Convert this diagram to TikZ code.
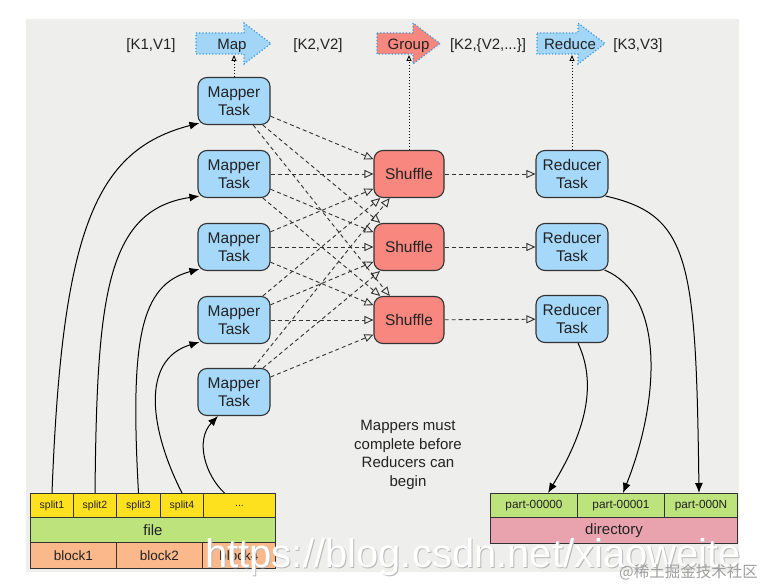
\documentclass[tikz,border=0pt]{standalone}
\usepackage{fontspec}
\setmainfont{Liberation Sans}
\newfontfamily\cjkfont{Noto Sans CJK SC}
\usetikzlibrary{arrows.meta,calc}
\definecolor{bgc}{HTML}{EEEEEC}
\definecolor{taskblue}{HTML}{A6D8FA}
\definecolor{shufred}{HTML}{F7877F}
\definecolor{arrblue}{HTML}{A3D5F7}
\definecolor{dotblue}{HTML}{3A9BE0}
\definecolor{splity}{HTML}{FDE11F}
\definecolor{fileg}{HTML}{BDE37D}
\definecolor{blockor}{HTML}{FBB88A}
\definecolor{dirpink}{HTML}{E8A3AE}
\definecolor{edge}{HTML}{333333}
\definecolor{txt}{HTML}{222222}
\begin{document}
\begin{tikzpicture}[x=1pt,y=-1pt,
  task/.style={draw=edge, line width=1.1pt, rounded corners=9pt, minimum width=72pt,
    minimum height=47pt, inner sep=0pt, align=center,
    font=\fontsize{15.5}{17.5}\selectfont, text=txt},
  mapper/.style={task, fill=taskblue},
  shuffle/.style={task, fill=shufred, minimum width=70pt},
  cell/.style={draw=edge, line width=1pt, anchor=north west, inner sep=0pt, text=txt},
  lbl/.style={font=\fontsize{15}{17}\selectfont, text=txt, inner sep=0pt, anchor=base},
  flowshape/.style={draw=dotblue, line width=1.2pt, dotted},
  dasharrow/.style={draw=edge, line width=0.9pt, dash pattern=on 4pt off 3pt,
    -{Triangle[open, length=9pt, width=8pt]}},
  uparrow/.style={draw=black, line width=1pt, dotted,
    -{Triangle[open, length=6pt, width=5pt, line width=0.9pt]}},
  feed/.style={draw=black, line width=1pt, -{Latex[length=10pt, width=8pt]}},
]
\useasboundingbox (0,0) rectangle (764,586);
\fill[bgc] (26,19) rectangle (739,572);

% top flow arrows
\filldraw[flowshape, fill=arrblue] (196,33) -- (244,33) -- (244,23) -- (271,43.5) -- (244,64) -- (244,54) -- (196,54) -- cycle;
\filldraw[flowshape, fill=shufred] (377,33) -- (413,33) -- (413,23) -- (440,43.5) -- (413,64) -- (413,54) -- (377,54) -- cycle;
\filldraw[flowshape, fill=arrblue] (537,33) -- (578,33) -- (578,23) -- (605,43.5) -- (578,64) -- (578,54) -- (537,54) -- cycle;
\node[lbl] (map) at (232,49.5) {Map};
\node[lbl] (group) at (408.5,49.5) {Group};
\node[lbl] (reduce) at (570,49.5) {Reduce};
\node[lbl] (kv1) at (151,49.5) {[K1,V1]};
\node[lbl] (kv2) at (318,49.5) {[K2,V2]};
\node[lbl] (kv2b) at (488,49.5) {[K2,\{V2,...\}]};
\node[lbl] (kv3) at (638,49.5) {[K3,V3]};
\coordinate (mapb) at (234,55);
\coordinate (groupb) at (409,55);
\coordinate (reduceb) at (572,55);

% tasks
\node[mapper] (m1) at (234,101) {Mapper\\Task};
\node[mapper] (m2) at (234,174) {Mapper\\Task};
\node[mapper] (m3) at (234,247) {Mapper\\Task};
\node[mapper] (m4) at (234,320) {Mapper\\Task};
\node[mapper] (m5) at (234,392) {Mapper\\Task};
\node[shuffle] (s1) at (409,174) {Shuffle};
\node[shuffle] (s2) at (409,247) {Shuffle};
\node[shuffle] (s3) at (409,320) {Shuffle};
\node[mapper] (r1) at (572,174) {Reducer\\Task};
\node[mapper] (r2) at (572,247) {Reducer\\Task};
\node[mapper] (r3) at (572,319) {Reducer\\Task};

% up arrows
\draw[uparrow] (m1.north) -- (mapb);
\draw[uparrow] (s1.north) -- (groupb);
\draw[uparrow] (r1.north) -- (reduceb);

% mapper -> shuffle
\foreach \i in {1,...,5}{
  \foreach \j in {1,2,3}{
    \draw[dasharrow] (m\i) -- (s\j);
  }
}
\foreach \j in {1,2,3}{
  \draw[dasharrow] (s\j) -- (r\j);
}

% input file table
\node[cell, fill=splity, minimum width=43pt, minimum height=24pt, font=\fontsize{10.5}{12}\selectfont] (sp1) at (30,493) {split1};
\node[cell, fill=splity, minimum width=43pt, minimum height=24pt, font=\fontsize{10.5}{12}\selectfont] (sp2) at (73,493) {split2};
\node[cell, fill=splity, minimum width=44pt, minimum height=24pt, font=\fontsize{10.5}{12}\selectfont] (sp3) at (116,493) {split3};
\node[cell, fill=splity, minimum width=43pt, minimum height=24pt, font=\fontsize{10.5}{12}\selectfont] (sp4) at (160,493) {split4};
\node[cell, fill=splity, minimum width=72pt, minimum height=24pt, font=\fontsize{10.5}{12}\selectfont] (sp5) at (203,493) {...};
\node[cell, fill=fileg, minimum width=245pt, minimum height=25pt, font=\fontsize{15}{17}\selectfont] (file) at (30,517) {file};
\node[cell, fill=blockor, minimum width=86pt, minimum height=26pt, font=\fontsize{13.5}{16}\selectfont] (b1) at (30,542) {block1};
\node[cell, fill=blockor, minimum width=86pt, minimum height=26pt, font=\fontsize{13.5}{16}\selectfont] (b2) at (116,542) {block2};
\node[cell, fill=blockor, minimum width=73pt, minimum height=26pt, font=\fontsize{13.5}{16}\selectfont] (b3) at (202,542) {block4};

% output directory table
\node[cell, fill=fileg, minimum width=87pt, minimum height=24pt, font=\fontsize{11.8}{14}\selectfont] (p0) at (490,493) {part-00000};
\node[cell, fill=fileg, minimum width=87pt, minimum height=24pt, font=\fontsize{11.8}{14}\selectfont] (p1) at (577,493) {part-00001};
\node[cell, fill=fileg, minimum width=73pt, minimum height=24pt, font=\fontsize{11.8}{14}\selectfont] (p2) at (664,493) {part-000N};
\node[cell, fill=dirpink, minimum width=247pt, minimum height=26pt, font=\fontsize{15}{17}\selectfont] (dir) at (490,517) {directory};

% feeding arrows
\draw[feed] (sp1.north) .. controls (62,230) and (95,150) .. ([xshift=2pt,yshift=2pt]m1.south west);
\draw[feed] (sp2.north) .. controls (97,300) and (105,210) .. ([xshift=2pt,yshift=2pt]m2.south west);
\draw[feed] (sp3.north) .. controls (130,340) and (140,285) .. ([xshift=2pt,yshift=2pt]m3.south west);
\draw[feed] (sp4.north) .. controls (150,430) and (140,360) .. ([xshift=2pt,yshift=2pt]m4.south west);
\draw[feed] ([xshift=-15pt]sp5.north) .. controls (205,475) and (195,440) .. ([xshift=-16pt]m5.south);

\draw[feed] ([xshift=-3pt,yshift=2pt]r1.south east) .. controls (690,215) and (696,260) .. ([xshift=-2pt]p2.north);
\draw[feed] ([xshift=-4pt,yshift=1pt]r2.south east) .. controls (665,295) and (660,400) .. ([xshift=2pt]p1.north);
\draw[feed] ([xshift=6pt]r3.south) .. controls (600,390) and (580,440) .. ([xshift=14pt]p0.north);

% note
\node[align=center, font=\fontsize{15}{18.5}\selectfont, text=txt] (note) at (408,455) {Mappers must\\complete before\\Reducers can\\begin};

% watermarks
\node[anchor=base west, inner sep=0pt, font=\fontsize{40}{40}\selectfont, text=gray!55] (wmshadow) at (206,568) {https://blog.csdn.net/xiaoweite};
\node[anchor=base west, inner sep=0pt, font=\fontsize{40}{40}\selectfont, text=white] (wm) at (205,567) {https://blog.csdn.net/xiaoweite};
\node[anchor=base east, inner sep=0pt, font=\cjkfont\fontsize{15.5}{16}\selectfont, text=gray!75] (wm2) at (758,577) {@稀土掘金技术社区};
\end{tikzpicture}
\end{document}
